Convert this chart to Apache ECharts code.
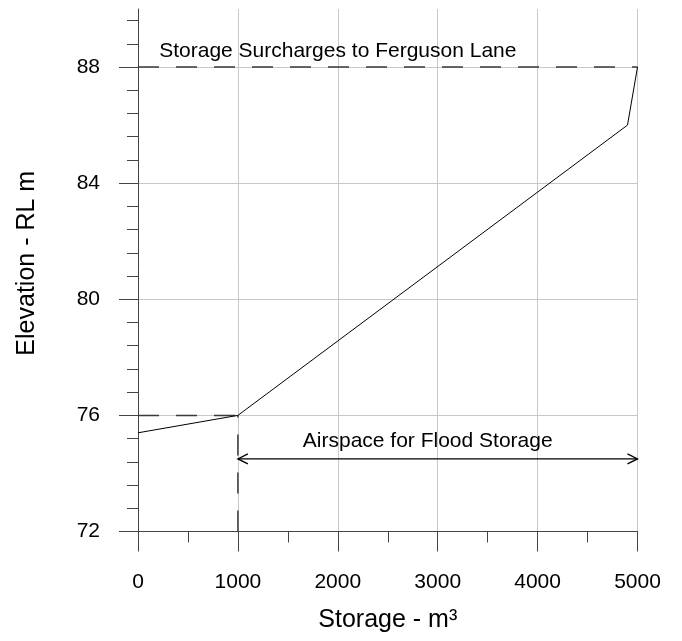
<!DOCTYPE html>
<html>
<head>
<meta charset="utf-8">
<title>Storage - Elevation</title>
<script src="https://cdn.jsdelivr.net/npm/echarts@6/dist/echarts.min.js"></script>
<style>
  html, body { margin: 0; padding: 0; background: #fff; }
  #chart { width: 682px; height: 641px; }
</style>
</head>
<body>
<div id="chart"></div>
<script>
// Storage (m3) against elevation (RL m)
const storage = [0, 1000, 4900, 5000];
const elevation = [75.4, 76, 86, 88];

// Reference levels drawn as dashed guides
const surchargeLine = [[0, 88], [5000, 88]];
const floodBaseLine = [[0, 76], [1000, 76]];
const floodStartLine = [[1000, 72], [1000, 76]];

// Double-headed arrow spanning the flood airspace
const airspaceArrow = [[1000, 74.5, 5000, 74.5]];

// Annotation text and where it sits (storage, elevation)
const noteTexts = ['Storage Surcharges to Ferguson Lane', 'Airspace for Flood Storage'];
const notePositions = [[2000, 88.55], [2900, 75.1]];

// Axis ticks
const xTicks = [0, 1000, 2000, 3000, 4000, 5000];
const yMajorTicks = [72, 76, 80, 84, 88];
const yMinorTicks = [72.8, 73.6, 74.4, 75.2, 76.8, 77.6, 78.4, 79.2,
                     80.8, 81.6, 82.4, 83.2, 84.8, 85.6, 86.4, 87.2, 88.8, 89.6];

const FONT = '"Liberation Sans", Arial, Helvetica, sans-serif';
const AXIS_COLOR = '#444';
const GRID_COLOR = '#c8c8c8';
const GUIDE_COLOR = '#3a3a3a';

const chart = echarts.init(document.getElementById('chart'), null, { renderer: 'canvas' });

const guide = (data) => ({
  type: 'line',
  data: data,
  symbol: 'none',
  silent: true,
  lineStyle: { color: GUIDE_COLOR, width: 1.5, type: [21, 17] },
  z: 3
});

chart.setOption({
  animation: false,
  backgroundColor: '#fff',
  textStyle: { fontFamily: FONT },
  grid: { left: 138, right: 44.5, top: 9, bottom: 109.5, containLabel: false, outerBoundsMode: 'none' },
  xAxis: {
    type: 'value',
    min: xTicks[0],
    max: xTicks[xTicks.length - 1],
    interval: 1000,
    name: 'Storage - m³',
    nameLocation: 'middle',
    nameGap: 76,
    nameTextStyle: { fontFamily: FONT, fontSize: 25, color: '#000' },
    axisLine: { show: true, onZero: false, lineStyle: { color: AXIS_COLOR, width: 1 } },
    axisTick: { show: true, length: 20, lineStyle: { color: AXIS_COLOR, width: 1 } },
    minorTick: { show: true, splitNumber: 2, length: 11, lineStyle: { color: AXIS_COLOR, width: 1 } },
    axisLabel: { fontFamily: FONT, fontSize: 21, color: '#000', margin: 40, formatter: (v) => String(v) },
    splitLine: { show: true, lineStyle: { color: GRID_COLOR, width: 1 } }
  },
  yAxis: [
    {
      type: 'value',
      min: 72,
      max: 90,
      position: 'left',
      name: 'Elevation - RL m',
      nameLocation: 'middle',
      nameGap: 98,
      nameTextStyle: { fontFamily: FONT, fontSize: 25, color: '#000', padding: [0, 0, 0, 14] },
      axisLine: { show: true, onZero: false, lineStyle: { color: AXIS_COLOR, width: 1 } },
      axisTick: { show: true, length: 19, customValues: yMajorTicks, lineStyle: { color: AXIS_COLOR, width: 1 } },
      axisLabel: { fontFamily: FONT, fontSize: 21, color: '#000', margin: 38, customValues: yMajorTicks },
      splitLine: { show: true, lineStyle: { color: GRID_COLOR, width: 1 } }
    },
    {
      type: 'value',
      min: 72,
      max: 90,
      position: 'left',
      offset: 0,
      axisLine: { show: false },
      axisTick: { show: true, length: 11, customValues: yMinorTicks, lineStyle: { color: AXIS_COLOR, width: 1 } },
      axisLabel: { show: false },
      splitLine: { show: false }
    }
  ],
  series: [
    guide(surchargeLine),
    guide(floodBaseLine),
    guide(floodStartLine),
    {
      type: 'line',
      data: storage.map((s, i) => [s, elevation[i]]),
      symbol: 'none',
      lineStyle: { color: '#000', width: 1 },
      z: 4
    },
    {
      type: 'custom',
      data: airspaceArrow,
      encode: { x: [0, 2], y: [1, 3] },
      z: 5,
      renderItem: (params, api) => {
        const a = api.coord([api.value(0), api.value(1)]);
        const b = api.coord([api.value(2), api.value(3)]);
        const head = 10, half = 5;
        const stroke = { stroke: '#000', lineWidth: 1.3, fill: null };
        return {
          type: 'group',
          children: [
            { type: 'line', shape: { x1: a[0], y1: a[1], x2: b[0], y2: b[1] }, style: stroke },
            { type: 'polyline', shape: { points: [[a[0] + head, a[1] - half], a, [a[0] + head, a[1] + half]] }, style: stroke },
            { type: 'polyline', shape: { points: [[b[0] - head, b[1] - half], b, [b[0] - head, b[1] + half]] }, style: stroke }
          ]
        };
      }
    },
    {
      type: 'custom',
      data: notePositions,
      encode: { x: 0, y: 1 },
      z: 6,
      renderItem: (params, api) => {
        const p = api.coord([api.value(0), api.value(1)]);
        return {
          type: 'text',
          style: {
            text: noteTexts[params.dataIndex],
            x: p[0],
            y: p[1],
            align: 'center',
            verticalAlign: 'middle',
            font: '21px ' + FONT,
            fill: '#000'
          }
        };
      }
    }
  ]
});
</script>
</body>
</html>
